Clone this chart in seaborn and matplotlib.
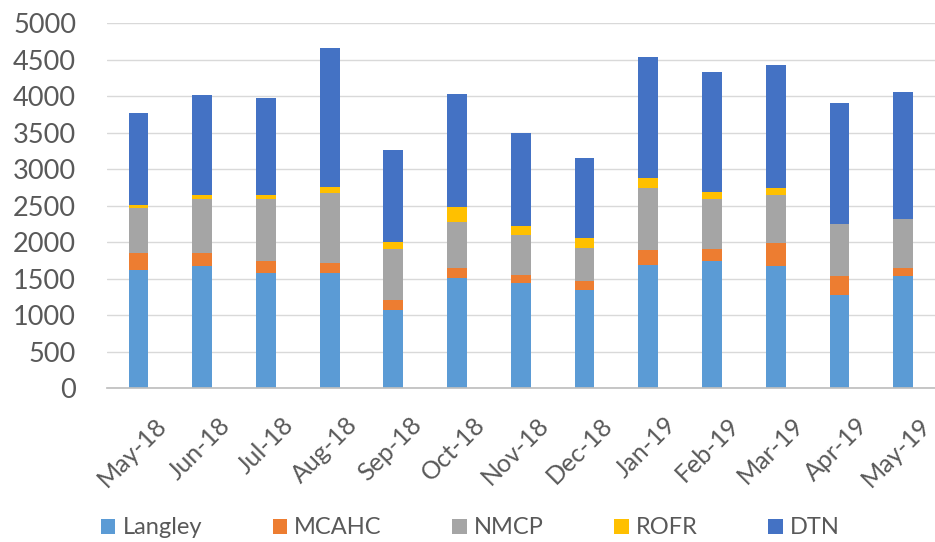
import matplotlib
matplotlib.use("Agg")
import matplotlib.pyplot as plt
import matplotlib.transforms as mtransforms
import seaborn as sns
import pandas as pd
import numpy as np
from matplotlib.patches import Patch

months = ["May-18", "Jun-18", "Jul-18", "Aug-18", "Sep-18", "Oct-18", "Nov-18",
          "Dec-18", "Jan-19", "Feb-19", "Mar-19", "Apr-19", "May-19"]
langley = [1620, 1667, 1575, 1575, 1064, 1507, 1438, 1338, 1689, 1735, 1680, 1279, 1530]
mcahc   = [230, 182, 160, 137, 146, 137, 115, 123, 206, 169, 306, 251, 114]
nmcp    = [617, 740, 854, 959, 694, 639, 547, 457, 854, 685, 662, 717, 671]
rofr    = [36, 59, 59, 92, 105, 196, 115, 137, 128, 105, 92, 0, 0]
dtn     = [1274, 1370, 1325, 1904, 1256, 1553, 1287, 1105, 1657, 1644, 1685, 1657, 1740]

series_names = ["Langley", "MCAHC", "NMCP", "ROFR", "DTN"]
series_vals = [langley, mcahc, nmcp, rofr, dtn]
colors = ["#5B9BD5", "#ED7D31", "#A5A5A5", "#FFC000", "#4472C4"]

sns.set_theme(style="white")
plt.rcParams["font.family"] = ["Lato", "DejaVu Sans"]

fig = plt.figure(figsize=(9.35, 5.42), dpi=100)
ax = fig.add_axes([0.114, 0.284, 0.886, 0.673])

cum = np.zeros(len(months))
cums = []
for v in series_vals:
    cum = cum + np.array(v)
    cums.append(cum.copy())

# draw from top layer to bottom so lower layers overlay
for name, c, col in reversed(list(zip(series_names, cums, colors))):
    d = pd.DataFrame({"month": months, "value": c})
    sns.barplot(data=d, x="month", y="value", color=col, width=0.31,
                saturation=1, ax=ax, order=months, linewidth=0)

ax.set_ylim(0, 5000)
ax.set_xlim(-0.5, len(months) - 0.5)
ax.set_yticks(range(0, 5001, 500))
ax.yaxis.grid(True, color="#D9D9D9", linewidth=1)
ax.set_axisbelow(True)
for s in ["top", "right", "left"]:
    ax.spines[s].set_visible(False)
ax.spines["bottom"].set_color("#BFBFBF")
ax.set_xlabel("")
ax.set_ylabel("")
ax.tick_params(axis="y", labelsize=19.5, colors="#595959", length=0, pad=22)
ax.tick_params(axis="x", labelsize=18, colors="#595959", length=0, pad=18)
offset = mtransforms.ScaledTranslation(0.16, 0, fig.dpi_scale_trans)
for lab in ax.get_xticklabels():
    lab.set_rotation(45)
    lab.set_ha("right")
    lab.set_rotation_mode("anchor")
    lab.set_transform(lab.get_transform() + offset)

handles = [Patch(facecolor=col, edgecolor="none", label=n) for n, col in zip(series_names, colors)]
leg = fig.legend(handles=handles, loc="center", bbox_to_anchor=(0.503, 0.026), ncol=5,
                 frameon=False, fontsize=17, handlelength=0.6, handleheight=0.6,
                 handletextpad=0.3, columnspacing=3.0)
for t in leg.get_texts():
    t.set_color("#595959")

fig.savefig("out.png", dpi=100)
